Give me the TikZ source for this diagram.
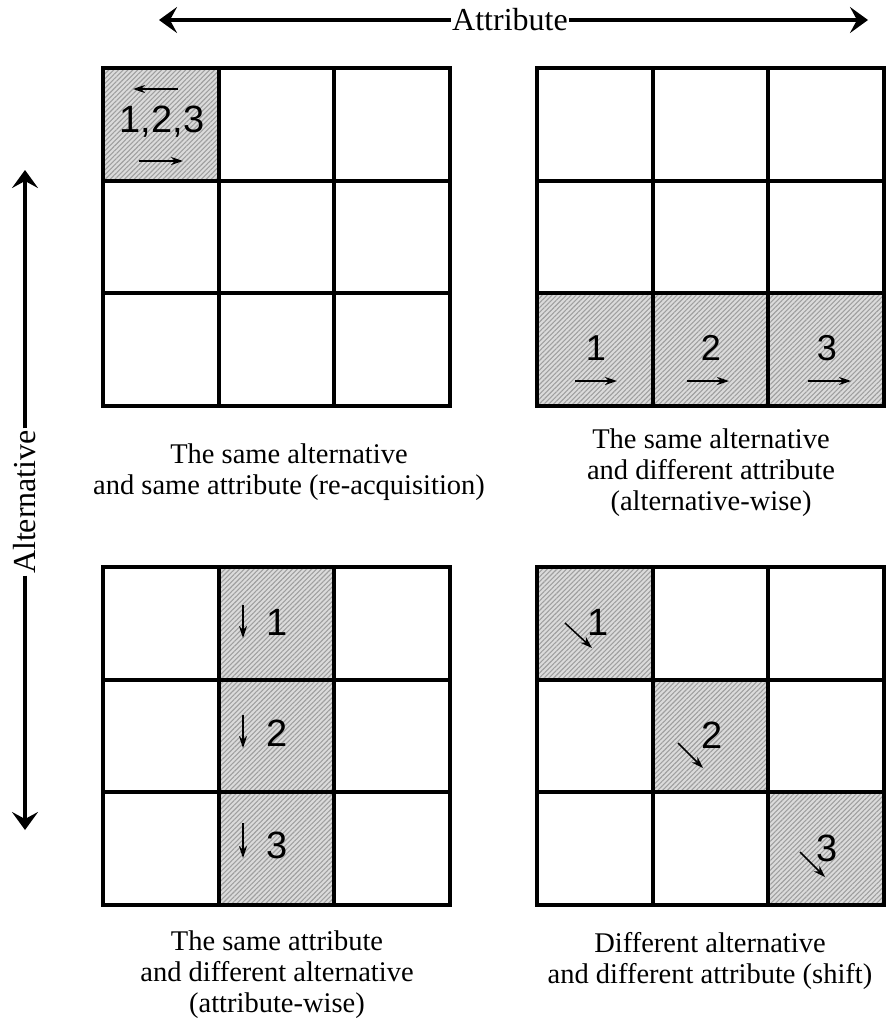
\documentclass[tikz,border=0pt]{standalone}
\usepackage{fontspec}
\setmainfont{Liberation Serif}
\newfontfamily\arialf{Liberation Sans}
\usetikzlibrary{arrows.meta,patterns.meta}
\newcommand\hcell[4]{\fill[hatched] ({#1+(#4-1)*115.7},{#2+(#3-1)*112.5}) rectangle ++(115.7,112.5);}
\newcommand\mygrid[3]{%
  \foreach \r in {1,2,3}{\foreach \c in {1,2,3}{%
    \node[cellbox] (#3\r\c) at ({#1+(\c-0.5)*115.7},{#2+(\r-0.5)*112.5}) {};
  }}}
\begin{document}
\begin{tikzpicture}[x=1pt,y=-1pt,
  cellbox/.style={draw, line width=4pt, minimum width=115.7pt, minimum height=112.5pt, inner sep=0pt, outer sep=0pt},
  hatched/.style={preaction={fill=gray!28}, pattern={Lines[angle=45,distance=3.4pt,line width=1.1pt]}, pattern color=gray!75},
  num/.style={font=\arialf\fontsize{38}{38}\selectfont, inner sep=0pt},
  smallarr/.style={line width=1.5pt, -{Stealth[length=12pt,width=8pt]}},
  axis/.style={line width=3.5pt, -{Stealth[length=18pt,width=26pt,inset=7pt]}},
  axlabel/.style={font=\fontsize{32}{32}\selectfont, inner sep=1.5pt},
  caption/.style={font=\fontsize{28.5}{31}\selectfont, align=center, inner sep=0pt, anchor=north}]
\useasboundingbox (0,0) rectangle (888,1025);

% axes
\node[axlabel] (attr) at (510,20) {Attribute};
\coordinate (aL) at (159,20);
\coordinate (aR) at (868,20);
\draw[axis] (attr) -- (aL);
\draw[axis] (attr) -- (aR);

\node[axlabel, rotate=90] (alt) at (25,502) {Alternative};
\coordinate (aT) at (25,170);
\coordinate (aB) at (25,830);
\draw[axis] (alt) -- (aT);
\draw[axis] (alt) -- (aB);

% hatched cells
\hcell{103}{68}{1}{1}
\hcell{537}{68}{3}{1}
\hcell{537}{68}{3}{2}
\hcell{537}{68}{3}{3}
\hcell{103}{567}{1}{2}
\hcell{103}{567}{2}{2}
\hcell{103}{567}{3}{2}
\hcell{537}{567}{1}{1}
\hcell{537}{567}{2}{2}
\hcell{537}{567}{3}{3}

% grids
\mygrid{103}{68}{A}
\mygrid{537}{68}{B}
\mygrid{103}{567}{C}
\mygrid{537}{567}{D}

% top-left
\node[num] (a123) at (162,122) {1,2,3};
\draw[smallarr] (178,89) -- (133,89);
\draw[smallarr] (139,161) -- (183,161);

% top-right
\node[num, font=\arialf\fontsize{36}{36}\selectfont] (b1) at (596,348) {1};
\node[num, font=\arialf\fontsize{36}{36}\selectfont] (b2) at (711,348) {2};
\node[num, font=\arialf\fontsize{36}{36}\selectfont] (b3) at (827,348) {3};
\draw[smallarr] (575,381) -- (617,381);
\draw[smallarr] (687,381) -- (729,381);
\draw[smallarr] (808,381) -- (851,381);

% bottom-left
\node[num] (c1) at (277,622) {1};
\node[num] (c2) at (277,733) {2};
\node[num] (c3) at (277,845) {3};
\draw[smallarr] (243,605) -- (243,638);
\draw[smallarr] (243,715) -- (243,748);
\draw[smallarr] (243,823) -- (243,858);

% bottom-right
\node[num] (d1) at (598,622) {1};
\node[num] (d2) at (712,735) {2};
\node[num] (d3) at (827,848) {3};
\draw[smallarr] (565,623) -- (592,648);
\draw[smallarr] (678,743) -- (703,768);
\draw[smallarr] (800,852) -- (825,877);

% captions
\node[caption] (capA) at (289,443.5) {The same alternative\\and same attribute (re-acquisition)};
\node[caption] (capB) at (711,428.5) {The same alternative\\and different attribute\\(alternative-wise)};
\node[caption] (capC) at (277,930.5) {The same attribute\\and different alternative\\(attribute-wise)};
\node[caption] (capD) at (710,932.5) {Different alternative\\and different attribute (shift)};
\end{tikzpicture}
\end{document}
